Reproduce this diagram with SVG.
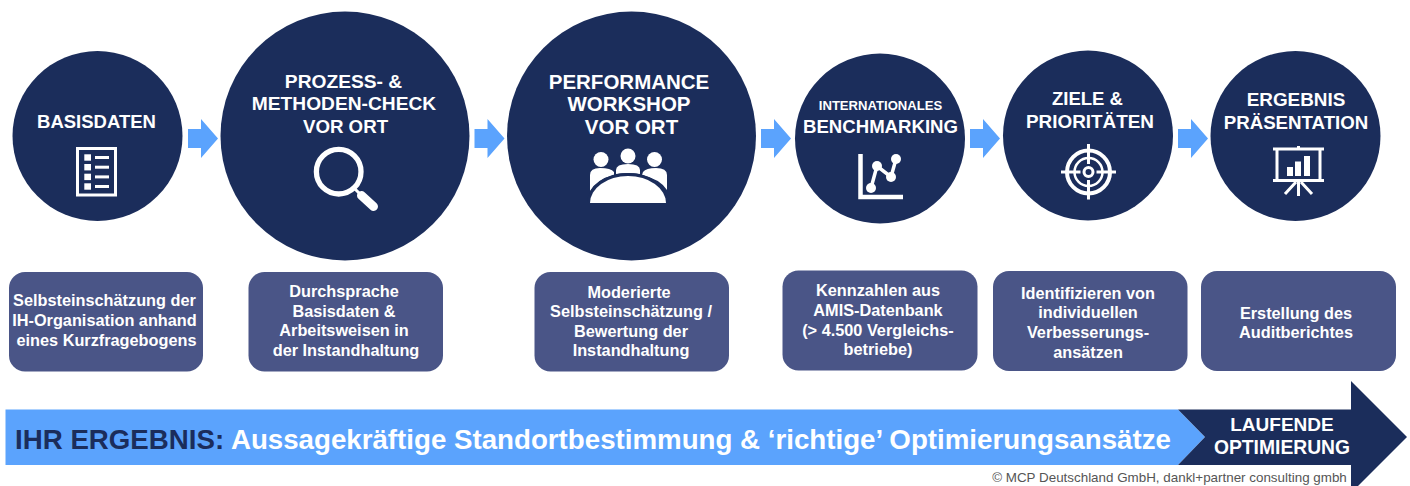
<svg xmlns="http://www.w3.org/2000/svg" width="1410" height="486" viewBox="0 0 1410 486">
<style>
text{font-family:"Liberation Sans",Arial,sans-serif;font-weight:700;fill:#fff;text-anchor:middle}
.c{fill:#1b2d5b}
.b{fill:#4a5587}
.t{font-size:18.9px}
.l{font-size:20.500px}
.d{font-size:16.300px}
.ln{fill:none;stroke:#fff;stroke-linecap:butt}
.w{fill:#fff}
.a{fill:#5ba3fd}
</style>
<defs><polygon id="arr" class="a" points="0,-9.500 13,-9.500 13,-19.500 30,0 13,19.500 13,9.500 0,9.500"/></defs>
<rect width="1410" height="486" fill="#fff"/>
<g id="connectors">
<use href="#arr" x="188" y="138.500"/>
<use href="#arr" x="474.500" y="138.500"/>
<use href="#arr" x="761" y="138.500"/>
<use href="#arr" x="970" y="138.500"/>
<use href="#arr" x="1178" y="138.500"/>
</g>
<g id="n1">
<circle class="c" cx="97.500" cy="136" r="85"/>
<text x="96.500" y="127.500" style="font-size:18.500px">BASISDATEN</text>
<rect class="ln" x="77.500" y="148.500" width="38" height="46.500" stroke-width="3"/>
<g class="w"><rect x="84.300" y="154.300" width="6.700" height="6.400"/><rect x="84.300" y="164" width="6.700" height="6.400"/><rect x="84.300" y="173.700" width="6.700" height="6.400"/><rect x="84.300" y="183.300" width="6.700" height="6.400"/>
<rect x="95" y="156" width="14" height="3"/><rect x="95" y="165.700" width="14" height="3"/><rect x="95" y="175.400" width="14" height="3"/><rect x="95" y="185" width="14" height="3"/></g>
</g>
<g id="n2">
<circle class="c" cx="345" cy="136" r="124.500"/>
<text x="343.500" y="88" style="font-size:19.200px">PROZESS- &amp;</text>
<text x="344" y="110" style="font-size:19.200px">METHODEN-CHECK</text>
<text x="345.500" y="133" style="font-size:18.700px">VOR ORT</text>
<circle class="ln" cx="338.700" cy="171.700" r="22.300" stroke-width="5.300"/>
<line x1="355" y1="189" x2="361" y2="195" stroke="#fff" stroke-width="3"/>
<line x1="361.500" y1="195.500" x2="373.500" y2="206.500" stroke="#fff" stroke-width="9" stroke-linecap="round"/>
</g>
<g id="n3">
<circle class="c" cx="631.500" cy="136" r="124.500"/>
<text class="l" x="629" y="88.500">PERFORMANCE</text>
<text class="l" x="629" y="110.500">WORKSHOP</text>
<text class="l" x="631.500" y="133.500">VOR ORT</text>
<g class="w">
<circle cx="601" cy="159.500" r="7.500"/><circle cx="628" cy="156" r="7.500"/><circle cx="654.500" cy="159.500" r="7.500"/>
<path d="M590,191V175Q590,168 600,168Q611,168 614,172V175Q597,179 590,191Z"/>
<path d="M616,174V170Q616,164 628,164Q640,164 640,170V174Q628,172 616,174Z"/>
<path d="M643,172Q646,168 656,168Q667,168 667,175V190Q660,179 642,175Z"/>
<path d="M590,203A38,27 0 0 1 666,203Z" stroke="#1b2d5b" stroke-width="6" style="paint-order:stroke"/>
</g>
</g>
<g id="n4">
<circle class="c" cx="880" cy="138.500" r="85"/>
<text x="880.500" y="110" style="font-size:13.100px">INTERNATIONALES</text>
<text x="880.500" y="133" style="font-size:18.600px">BENCHMARKING</text>
<path class="ln" d="M860.500,154V197H903" stroke-width="4.500"/>
<path class="ln" d="M871,188L877,166L891,177L896,159" stroke-width="3.500"/>
<g class="w"><circle cx="871" cy="188" r="5"/><circle cx="877" cy="166" r="5"/><circle cx="891" cy="177" r="5"/><circle cx="896" cy="159" r="5"/></g>
</g>
<g id="n5">
<circle class="c" cx="1088" cy="135.500" r="85"/>
<text x="1087.500" y="105" style="font-size:18.500px">ZIELE &amp;</text>
<text class="t" x="1090" y="128">PRIORITÄTEN</text>
<circle class="ln" cx="1088.500" cy="172" r="21.500" stroke-width="4"/>
<circle class="ln" cx="1088.500" cy="172" r="14" stroke-width="2.500"/>
<circle class="ln" cx="1088.500" cy="172" r="4.500" stroke-width="3"/>
<path class="ln" d="M1088.500,144V164M1088.500,180V199.500M1061,172H1080.500M1096.500,172H1116" stroke-width="3"/>
</g>
<g id="n6">
<circle class="c" cx="1295.500" cy="136" r="85"/>
<text class="t" x="1296" y="106">ERGEBNIS</text>
<text x="1296" y="128.500" style="font-size:18.700px">PRÄSENTATION</text>
<path class="ln" d="M1273,149H1324M1273,180.500H1324M1277,149V180.500M1320,149V180.500M1298.500,146V149M1298.500,181V196M1296,182L1285,194M1301,182L1312,194" stroke-width="3"/>
<g class="w"><rect x="1287" y="167" width="6" height="9"/><rect x="1295" y="161.500" width="6" height="14.500"/><rect x="1304" y="156" width="6" height="20"/></g>
</g>
<g id="box1"><rect class="b" x="9" y="272" width="194" height="99.500" rx="16"/>
<text class="d" x="104.500" y="305.500">Selbsteinschätzung der</text><text class="d" x="104.500" y="325.500">IH-Organisation anhand</text><text class="d" x="106.500" y="345.500">eines Kurzfragebogens</text></g>
<g id="box2"><rect class="b" x="248.500" y="272" width="194.500" height="99.500" rx="16"/>
<text class="d" x="344" y="297">Durchsprache</text><text class="d" x="344" y="317">Basisdaten &amp;</text><text class="d" x="344" y="336">Arbeitsweisen in</text><text class="d" x="346" y="356">der Instandhaltung</text></g>
<g id="box3"><rect class="b" x="534.500" y="272" width="194.500" height="99.500" rx="16"/>
<text class="d" x="629" y="297.500">Moderierte</text><text class="d" x="631" y="317">Selbsteinschätzung /</text><text class="d" x="631" y="337">Bewertung der</text><text class="d" x="631" y="356">Instandhaltung</text></g>
<g id="box4"><rect class="b" x="782.500" y="270.500" width="195" height="100" rx="16"/>
<text class="d" x="878" y="296">Kennzahlen aus</text><text class="d" x="878" y="316">AMIS-Datenbank</text><text class="d" x="878" y="335.500">(&gt; 4.500 Vergleichs-</text><text class="d" x="878" y="355">betriebe)</text></g>
<g id="box5"><rect class="b" x="993" y="271" width="194.500" height="100" rx="16"/>
<text class="d" x="1088" y="298.500">Identifizieren von</text><text class="d" x="1088" y="318">individuellen</text><text class="d" x="1088" y="338">Verbesserungs-</text><text class="d" x="1088" y="357.500">ansätzen</text></g>
<g id="box6"><rect class="b" x="1201" y="271" width="195" height="100" rx="16"/>
<text class="d" x="1296" y="318.500">Erstellung des</text><text class="d" x="1296" y="338">Auditberichtes</text></g>
<g id="result">
<polygon class="a" points="5.500,409.500 1178,409.500 1205,437 1178,465 5.500,465"/>
<text x="15" y="448.500" style="font-size:27.700px;text-anchor:start"><tspan style="fill:#1b2d5b">IHR ERGEBNIS:</tspan> Aussagekräftige Standortbestimmung &amp; ‘richtige’ Optimierungsansätze</text>
</g>
<g id="laufend">
<polygon class="c" points="1178,409.500 1351,409.500 1351,381 1407,437 1351,493 1351,465 1178,465 1205,437"/>
<text x="1282" y="431" style="font-size:19px">LAUFENDE</text>
<text x="1282" y="454" style="font-size:19.300px">OPTIMIERUNG</text>
</g>
<text x="1169.500" y="482" style="font-size:13.400px;font-weight:400;fill:#555">© MCP Deutschland GmbH, dankl+partner consulting gmbh</text>
</svg>
